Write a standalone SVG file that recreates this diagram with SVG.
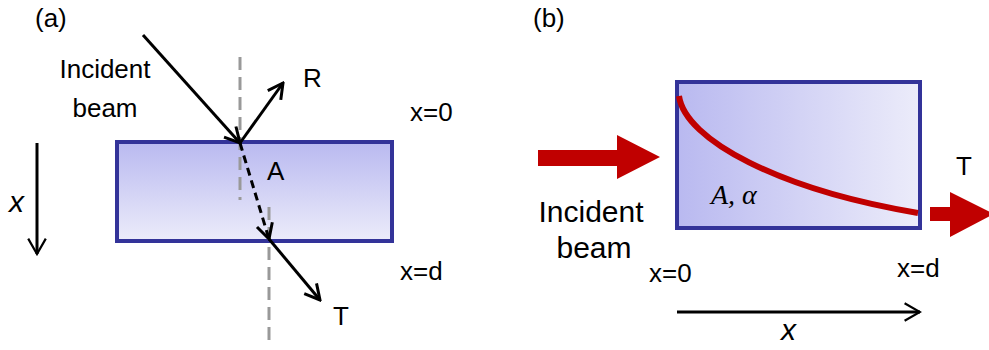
<svg xmlns="http://www.w3.org/2000/svg" width="989" height="350" viewBox="0 0 989 350">
<style>
.t{font-family:"Liberation Sans",Arial,sans-serif;font-size:26px;fill:#000}
.tb{font-family:"Liberation Sans",Arial,sans-serif;font-size:30px;fill:#000}
.it{font-family:"Liberation Sans",Arial,sans-serif;font-style:italic;font-size:30px;fill:#000}
.ray{stroke:#000;stroke-width:3;fill:none}
.norm{stroke:#999;stroke-width:3;fill:none;stroke-dasharray:13,7}
.box{stroke:#333399;stroke-width:4}
</style>
<defs>
<linearGradient id="gv" x1="0" y1="0" x2="0" y2="1">
<stop offset="0" stop-color="#b9b9f0"/><stop offset="1" stop-color="#ececfa"/>
</linearGradient>
<linearGradient id="gh" x1="0" y1="0" x2="1" y2="0">
<stop offset="0" stop-color="#b9b9f0"/><stop offset="1" stop-color="#ececfa"/>
</linearGradient>
<marker id="open" viewBox="0 0 20 20" refX="18" refY="10" markerWidth="20" markerHeight="20" markerUnits="userSpaceOnUse" orient="auto">
<path d="M3,2 L18,10 L3,18" fill="none" stroke="#000" stroke-width="3"/>
</marker>
<marker id="openthin" viewBox="0 0 20 20" refX="18" refY="10" markerWidth="22" markerHeight="22" markerUnits="userSpaceOnUse" orient="auto">
<path d="M4,2 L18,10 L4,18" fill="none" stroke="#000" stroke-width="2"/>
</marker>
</defs>

<g id="panel-a">
<text class="t" x="35" y="27" font-size="28">(a)</text>
<g id="slab-a">
<rect class="box" x="117" y="142" width="275" height="99" fill="url(#gv)"/>
<text class="t" x="267" y="180">A</text>
</g>
<g id="labels-a">
<text class="t" x="105" y="78" text-anchor="middle" font-size="27">Incident</text>
<text class="t" x="105" y="117" text-anchor="middle" font-size="27">beam</text>
<text class="t" x="303" y="87">R</text>
<text class="t" x="333" y="325">T</text>
<text class="t" x="410" y="121">x=0</text>
<text class="t" x="400" y="280">x=d</text>
<text class="it" x="9" y="212">x</text>
</g>
<g id="connectors-a">
<line class="norm" x1="240" y1="57" x2="240" y2="200"/>
<line class="norm" x1="269" y1="207" x2="269" y2="342"/>
<line class="ray" x1="143" y1="35" x2="240" y2="143" marker-end="url(#open)"/>
<line class="ray" x1="240" y1="143" x2="283" y2="83" marker-end="url(#open)"/>
<line class="ray" x1="240" y1="143" x2="269" y2="239" stroke-dasharray="8,5" marker-end="url(#open)"/>
<line class="ray" x1="269" y1="239" x2="320" y2="300" marker-end="url(#open)"/>
<line class="ray" stroke-width="2" x1="37" y1="143" x2="37" y2="254" marker-end="url(#openthin)"/>
</g>
</g>

<g id="panel-b">
<text class="t" x="533" y="27" font-size="28">(b)</text>
<g id="slab-b">
<rect class="box" x="677" y="82" width="243" height="146" fill="url(#gh)"/>
<path d="M679,96 C685,140 780,190 918,213" fill="none" stroke="#c00000" stroke-width="6"/>
<text x="711" y="204" font-family="'Liberation Serif','Times New Roman',serif" font-style="italic" font-size="28">A, α</text>
</g>
<g id="labels-b">
<text class="tb" x="591" y="222" text-anchor="middle">Incident</text>
<text class="tb" x="594" y="258" text-anchor="middle">beam</text>
<text class="t" x="956" y="175" font-size="27">T</text>
<text class="t" x="649" y="282">x=0</text>
<text class="t" x="897" y="277">x=d</text>
<text class="it" x="781" y="340">x</text>
</g>
<g id="connectors-b">
<path d="M538,150 H617 V135 L660,157 L617,179 V166 H538 Z" fill="#c00000"/>
<path d="M930,207 H950 V192 L994,214 L950,237 V221 H930 Z" fill="#c00000"/>
<line class="ray" stroke-width="2" x1="677" y1="312" x2="920" y2="312" marker-end="url(#openthin)"/>
</g>
</g>
</svg>
